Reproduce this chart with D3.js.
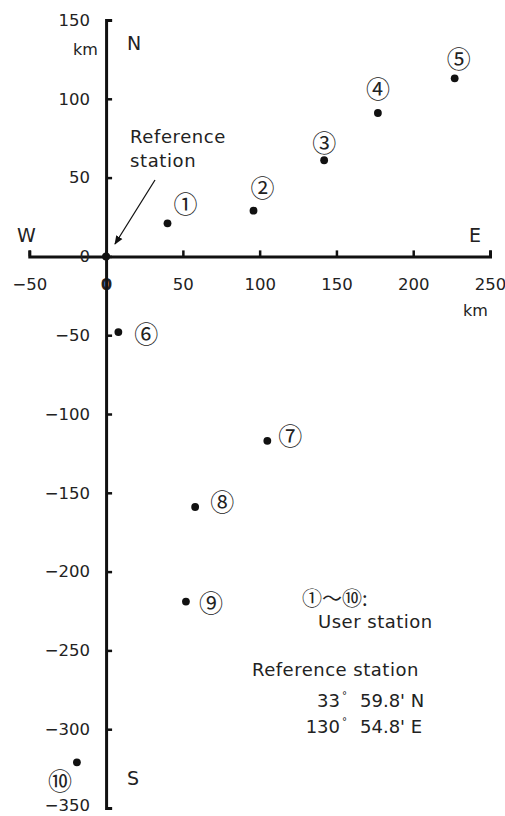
<!DOCTYPE html>
<html>
<head>
<meta charset="utf-8">
<script src="https://cdn.jsdelivr.net/npm/d3@7"></script>
<style>
  body { margin: 0; background: #fff; }
  svg { display: block; }
  text { font-family: "DejaVu Sans", sans-serif; fill: #222; }
  .circ { font-family: "Noto Sans CJK JP", "DejaVu Sans", sans-serif; }
</style>
</head>
<body>
<div id="chart"></div>
<script>
// station positions relative to the reference station (km)
var stations = ["①", "②", "③", "④", "⑤", "⑥", "⑦", "⑧", "⑨", "⑩"];
var eastKm  = [40, 96, 142, 177, 227, 8, 105, 58, 52, -19];
var northKm = [21, 29, 61, 91, 113, -48, -117, -159, -219, -321];

var xTicks = [-50, 0, 50, 100, 150, 200, 250];
var yTicks = [150, 100, 50, 0, -50, -100, -150, -200, -250, -300, -350];

var refLat = ["33", "59.8' N"];
var refLon = ["130", "54.8' E"];

// label offsets from each dot (px)
var labelDx = [18, 9, 0, 0, 4, 28, 23, 27, 25, -17];
var labelDy = [-21, -24, -19, -25, -21, 0, -6, -6, 0, 17];

var W = 505, H = 816;

var x = d3.scaleLinear().domain([-50, 250]).range([29.3, 490]);
var y = d3.scaleLinear().domain([-350, 150]).range([808, 20]);

var svg = d3.select("#chart").append("svg")
    .attr("width", W)
    .attr("height", H);

svg.append("defs").append("marker")
    .attr("id", "arrow")
    .attr("viewBox", "0 0 10 10")
    .attr("refX", 9).attr("refY", 5)
    .attr("markerWidth", 7).attr("markerHeight", 7)
    .attr("orient", "auto")
  .append("path")
    .attr("d", "M0,1L10,5L0,9Z")
    .attr("fill", "#111");

// x axis (drawn first so the y axis line covers its "0")
var xAxis = d3.axisBottom(x)
    .tickValues(xTicks)
    .tickSize(-6)
    .tickSizeOuter(-6)
    .tickPadding(22);

var gx = svg.append("g")
    .attr("transform", "translate(0," + y(0) + ")")
    .call(xAxis);

var yAxis = d3.axisLeft(y)
    .tickValues(yTicks)
    .tickSize(-6)
    .tickSizeOuter(-6)
    .tickPadding(16);

var gy = svg.append("g")
    .attr("transform", "translate(" + x(0) + ",0)")
    .call(yAxis);

[gx, gy].forEach(function(g) {
  g.select(".domain").attr("stroke", "#111").attr("stroke-width", 3);
  g.selectAll(".tick line").attr("stroke", "#111").attr("stroke-width", 2.5);
  g.selectAll(".tick text")
    .attr("fill", "#222")
    .style("font-family", "'DejaVu Sans', sans-serif")
    .style("font-size", "16.5px");
});

// the x-axis "0" sits under the y axis line as a dark blob
gx.selectAll(".tick text").filter(function(d) { return d === 0; })
    .attr("fill", "#111").style("font-weight", "bold");
// keep the bottom label inside the picture
gy.selectAll(".tick text").filter(function(d) { return d === -350; })
    .attr("y", -3);

// compass letters and units
var notes = [
  {t: "km", x: 73, y: 55, s: 16},
  {t: "N", x: 127, y: 50, s: 19},
  {t: "W", x: 17, y: 242, s: 19},
  {t: "E", x: 469, y: 242, s: 19},
  {t: "km", x: 463, y: 316, s: 16},
  {t: "S", x: 127, y: 785, s: 19}
];
svg.selectAll("text.note").data(notes).enter().append("text")
    .attr("class", "note")
    .attr("x", function(d) { return d.x; })
    .attr("y", function(d) { return d.y; })
    .style("font-size", function(d) { return d.s + "px"; })
    .text(function(d) { return d.t; });

// reference station marker + arrow
svg.append("circle")
    .attr("cx", x(0)).attr("cy", y(0)).attr("r", 4).attr("fill", "#111");

svg.append("line")
    .attr("x1", 155).attr("y1", 180)
    .attr("x2", 115).attr("y2", 244)
    .attr("stroke", "#111").attr("stroke-width", 1.3)
    .attr("marker-end", "url(#arrow)");

var refText = svg.append("text")
    .attr("x", 130).attr("y", 143)
    .style("font-size", "18px")
    .style("letter-spacing", "0.6px");
refText.append("tspan").attr("x", 130).text("Reference");
refText.append("tspan").attr("x", 130).attr("dy", 24).text("station");

// user stations
svg.selectAll("circle.st").data(stations).enter().append("circle")
    .attr("class", "st")
    .attr("cx", function(d, i) { return x(eastKm[i]); })
    .attr("cy", function(d, i) { return y(northKm[i]); })
    .attr("r", 3.9)
    .attr("fill", "#111");

svg.selectAll("text.lab").data(stations).enter().append("text")
    .attr("class", "lab circ")
    .attr("x", function(d, i) { return x(eastKm[i]) + labelDx[i]; })
    .attr("y", function(d, i) { return y(northKm[i]) + labelDy[i]; })
    .attr("text-anchor", "middle")
    .attr("dominant-baseline", "central")
    .style("font-size", "24px")
    .text(function(d) { return d; });

// legend block
svg.append("text")
    .attr("class", "circ")
    .attr("x", 302).attr("y", 597)
    .attr("dominant-baseline", "central")
    .style("font-size", "20px")
    .text(stations[0] + "～" + stations[9] + ":");

svg.append("text")
    .attr("x", 318).attr("y", 628)
    .style("font-size", "18px")
    .style("letter-spacing", "0.5px")
    .text("User station");

svg.append("text")
    .attr("x", 252).attr("y", 676)
    .style("font-size", "18px")
    .style("letter-spacing", "0.5px")
    .text("Reference station");

[[refLat, 707], [refLon, 733]].forEach(function(r) {
  svg.append("text")
      .attr("x", 340).attr("y", r[1])
      .attr("text-anchor", "end")
      .style("font-size", "18px")
      .text(r[0][0]);
  svg.append("text")
      .attr("x", 342).attr("y", r[1] - 8)
      .style("font-size", "10px")
      .text("°");
  svg.append("text")
      .attr("x", 360).attr("y", r[1])
      .style("font-size", "18px")
      .text(r[0][1]);
});
</script>
</body>
</html>
